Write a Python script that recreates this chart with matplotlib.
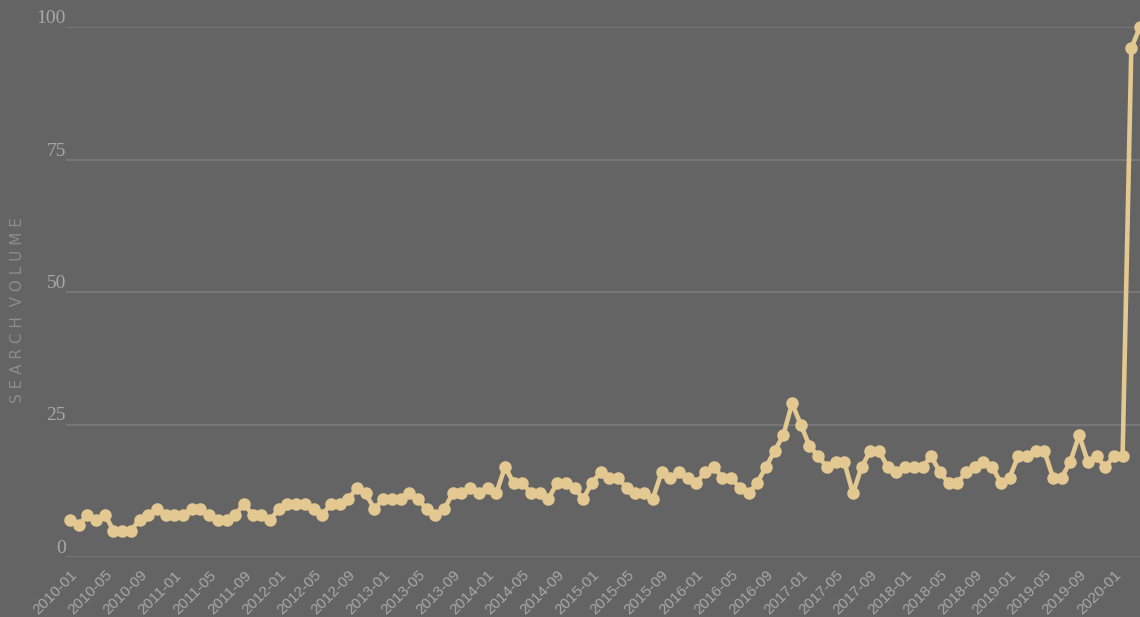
import matplotlib
matplotlib.use("Agg")
import matplotlib.pyplot as plt
import matplotlib.transforms as mtransforms
import numpy as np
import pandas as pd

# ---- data ----
start_month = "2010-01"
search_volume = [
    7, 6, 8, 7, 8, 5, 5, 5, 7, 8, 9, 8,          # 2010
    8, 8, 9, 9, 8, 7, 7, 8, 10, 8, 8, 7,         # 2011
    9, 10, 10, 10, 9, 8, 10, 10, 11, 13, 12, 9,  # 2012
    11, 11, 11, 12, 11, 9, 8, 9, 12, 12, 13, 12, # 2013
    13, 12, 17, 14, 14, 12, 12, 11, 14, 14, 13, 11,  # 2014
    14, 16, 15, 15, 13, 12, 12, 11, 16, 15, 16, 15,  # 2015
    14, 16, 17, 15, 15, 13, 12, 14, 17, 20, 23, 29,  # 2016
    25, 21, 19, 17, 18, 18, 12, 17, 20, 20, 17, 16,  # 2017
    17, 17, 17, 19, 16, 14, 14, 16, 17, 18, 17, 14,  # 2018
    15, 19, 19, 20, 20, 15, 15, 18, 23, 18, 19, 17,  # 2019
    19, 19, 96, 100,                                 # 2020
]
months = pd.date_range(start_month, periods=len(search_volume), freq="MS").strftime("%Y-%m").tolist()
tick_every = 4
y_ticks = [0, 25, 50, 75, 100]
y_label = "SEARCH VOLUME"

# ---- style ----
BG = "#646464"
GRID = "#7a7a7a"
LINE = "#e3c891"
TXT = "#a8a8a8"

fig = plt.figure(figsize=(11.4, 6.17), dpi=100, facecolor=BG)
W, H = 1140, 617
ax = fig.add_axes([66 / W, (H - 557) / H, (W - 66) / W, 530 / H])
ax.set_facecolor(BG)

x = np.arange(len(search_volume))
ax.plot(x, search_volume, color=LINE, lw=3.3, marker="o", ms=8,
        markerfacecolor=LINE, markeredgecolor=LINE, clip_on=False, zorder=3)

ax.set_xlim(-0.46, len(search_volume) - 1)
ax.set_ylim(0, 100)
ax.set_yticks(y_ticks)
ax.set_yticklabels([str(v) for v in y_ticks], fontfamily="Liberation Serif",
                   fontsize=14, color=TXT)
for lab in ax.get_yticklabels():
    lab.set_va("bottom")
ax.tick_params(axis="y", length=0, pad=0)
ax.yaxis.grid(True, color=GRID, lw=1.3)
ax.set_axisbelow(True)

xt = x[::tick_every]
ax.set_xticks(xt)
ax.set_xticklabels([months[i] for i in xt], rotation=45, ha="right",
                   rotation_mode="anchor", fontfamily="Liberation Sans",
                   fontsize=11, color=TXT)
offset = mtransforms.ScaledTranslation(8 / 100, 0, fig.dpi_scale_trans)
for lab in ax.get_xticklabels():
    lab.set_transform(lab.get_transform() + offset)
ax.tick_params(axis="x", length=0, pad=8)

for s in ax.spines.values():
    s.set_visible(False)

fig.text(18 / W, 1 - 310 / H, "  ".join(" ".join(w) for w in y_label.split()),
         rotation=90, ha="center", va="center", fontsize=11,
         fontfamily="DejaVu Sans", color="#8c8c8c")

fig.savefig("out.png", dpi=100, facecolor=BG)
